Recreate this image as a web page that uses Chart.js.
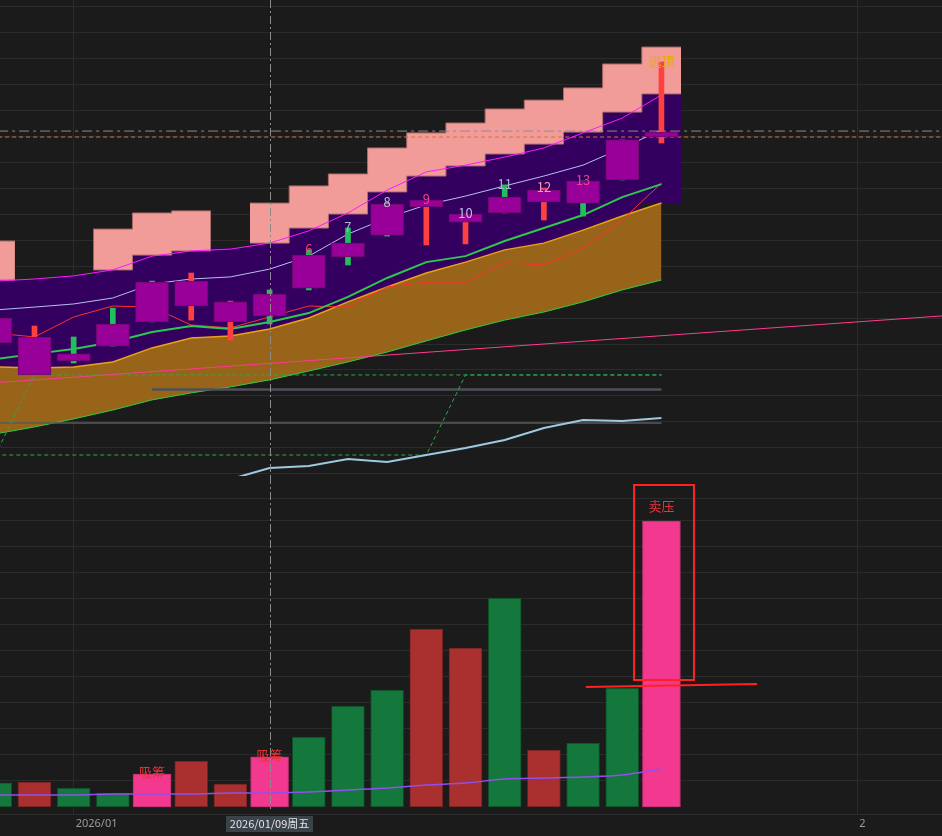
<!DOCTYPE html>
<html>
<head>
<meta charset="utf-8">
<script src="https://cdn.jsdelivr.net/npm/chart.js@4.4.1/dist/chart.umd.min.js"></script>
<style>
  html, body { margin: 0; padding: 0; background: #1b1b1b; }
  #wrap { position: relative; width: 942px; height: 836px; overflow: hidden; }
  #priceChart { position: absolute; left: 0; top: 0; }
  #volChart { position: absolute; left: 0; top: 476px; }
</style>
</head>
<body>
<div id="wrap">
  <canvas id="priceChart" width="942" height="476"></canvas>
  <canvas id="volChart" width="942" height="360"></canvas>
</div>
<script>
// ---- data, one entry per trading day (index 0 = first visible bar) ----
const crossIdx = 7;
const crossLabel = '2026/01/09周五';
const axisTickIdx = [2, 22];
const axisTickLabels = ['2026/01', '2'];

// candles
const openP  = [16.00, 13.81, 14.62, 15.77, 17.38, 16.46, 15.85, 16.92, 18.42, 18.88, 20.38, 20.27, 19.69, 20.65, 20.46, 21.27, 22.85, 22.96];
const closeP = [15.04, 15.27, 14.35, 14.92, 15.85, 17.42, 16.62, 16.08, 17.15, 18.35, 19.19, 20.54, 20.00, 20.04, 20.92, 20.42, 21.31, 23.15];
const highP  = [16.00, 15.69, 15.27, 16.38, 17.42, 17.73, 16.65, 17.08, 18.62, 19.46, 20.42, 20.54, 20.00, 21.12, 21.00, 21.27, 22.85, 25.85];
const lowP   = [15.04, 13.81, 14.27, 14.92, 15.85, 15.92, 15.15, 15.77, 17.08, 18.04, 19.15, 18.81, 18.85, 20.04, 19.77, 19.92, 21.31, 22.73];

// labels above candles
const candleTags = [null, null, null, null, null, null, null, null, '6', '7', '8', '9', '10', '11', '12', '13', null, '逃顶'];
const tagColors  = [null, null, null, null, null, null, null, null, '#e0407a', '#a9b6d6', '#b9c2c9', '#f0408a', '#c2b8e2', '#a9b6d6', '#f09ac0', '#e8408a', null, '#e6a817'];

// overlay lines
const magentaLine  = [17.42, 17.50, 17.62, 17.85, 18.38, 18.58, 18.65, 18.88, 19.35, 20.04, 20.92, 21.62, 21.88, 22.19, 22.54, 23.12, 23.69, 24.58];
const lavenderLine = [16.31, 16.42, 16.54, 16.77, 17.31, 17.50, 17.58, 17.88, 18.38, 19.23, 19.85, 20.35, 20.69, 21.08, 21.46, 21.88, 22.54, 23.23];
const greenMA      = [14.42, 14.62, 14.81, 15.08, 15.46, 15.69, 15.58, 15.85, 16.19, 16.81, 17.54, 18.15, 18.38, 18.96, 19.46, 19.96, 20.65, 21.15];
const redLine      = [15.42, 15.27, 16.04, 16.46, 16.42, 15.73, 15.62, 16.04, 16.46, 16.42, 17.19, 17.38, 17.38, 18.12, 18.04, 18.69, 19.77, 21.19];
const lightBlue    = [null, null, null, null, null, 9.50, 9.80, 10.23, 10.31, 10.58, 10.46, 10.73, 11.00, 11.31, 11.77, 12.08, 12.04, 12.15];

// orange band
const bandTop    = [14.12, 14.08, 14.12, 14.31, 14.85, 15.23, 15.31, 15.58, 16.00, 16.62, 17.19, 17.73, 18.15, 18.62, 18.88, 19.38, 19.92, 20.42];
const bandBottom = [11.54, 11.81, 12.12, 12.46, 12.85, 13.12, 13.35, 13.62, 13.96, 14.31, 14.69, 15.12, 15.54, 15.92, 16.23, 16.62, 17.08, 17.46];

// stepped purple / salmon zones
const purpleHigh = [17.46, 17.50, 17.62, 17.85, 18.42, 18.58, 18.69, 18.88, 19.46, 20.00, 20.85, 21.46, 21.85, 22.31, 22.69, 23.15, 23.92, 24.62];
const purpleLow  = [13.92, 13.88, 13.92, 14.11, 14.65, 15.03, 15.11, 15.38, 15.80, 16.42, 16.99, 17.53, 17.95, 18.42, 18.68, 19.18, 19.72, 20.42];
const salmonHigh = [18.96, null, null, 19.42, 20.04, 20.12, null, 20.42, 21.08, 21.54, 22.54, 23.12, 23.50, 24.04, 24.38, 24.85, 25.77, 26.42];

// green dashed stop lines
const stopA = [10.73, 13.81, 13.81, 13.81, 13.81, 13.81, 13.81, 13.81, 13.81, 13.81, 13.81, 13.81, 13.81, 13.81, 13.81, 13.81, 13.81, 13.81];
const stopB = [10.73, 10.73, 10.73, 10.73, 10.73, 10.73, 10.73, 10.73, 10.73, 10.73, 10.73, 10.73, 13.81, 13.81, 13.81, 13.81, 13.81, 13.81];

// horizontal levels and the pink trend line
const dashDotLevel = 23.19;
const dashedLevel = 22.96;
const grayLevelA = { from: 4, to: 17, value: 13.25 };
const grayLevelB = { from: 0, to: 17, value: 11.96 };
const trendIdx = [0, 25];
const trendVal = [13.51, 16.17];

// volume
const volume = [1850, 1920, 1460, 1080, 2540, 3540, 1770, 3850, 5380, 7770, 9000, 13690, 12230, 16080, 4380, 4920, 9150, 22000];
const volMA  = [920, 920, 920, 1000, 1000, 1000, 1080, 1080, 1150, 1310, 1460, 1690, 1850, 2150, 2230, 2310, 2460, 2920];
const signalIdx = [4, 7, 17];
const signalNotes = [
    { i: 4, text: '吸筹', v: 2690 },
    { i: 7, text: '吸筹', v: 4000 },
    { i: 17, text: '卖压', v: 23150 }
];
const sellBox = { x: [16.30, 17.83], v: [9770, 24770] };
const sellLine = { x: [15.07, 19.44], v: [9230, 9460] };

// ---- look ----
const GRID = '#2b2b2b';
const X_MIN = 0.12, X_MAX = 24.16;
const RED = '#ff4040', GREEN = '#22c05a';

const isUp = openP.map((o, i) => closeP[i] >= o);
const series = vals => vals.map((v, i) => ({ x: i, y: v }));

// one flat step per day, from half a day before to half a day after
function steps(vals) {
    const pts = [];
    vals.forEach((v, i) => {
        if (v === null) { pts.push({ x: i, y: null }); return; }
        pts.push({ x: i - 0.5, y: v }, { x: i + 0.5, y: v });
    });
    return pts;
}

function lineSet(data, color, width, order, extra) {
    return Object.assign({
        type: 'line', data: data, borderColor: color, borderWidth: width,
        pointRadius: 0, tension: 0, fill: false, order: order
    }, extra || {});
}

function xAxis(showLabels) {
    return {
        type: 'linear', min: X_MIN, max: X_MAX, offset: false,
        afterBuildTicks: a => { a.ticks = axisTickIdx.map(v => ({ value: v })); },
        afterFit: a => { a.height = showLabels ? 22 : 0; },
        grid: { color: GRID, drawTicks: false, offset: false },
        border: { display: showLabels, color: GRID },
        ticks: {
            display: showLabels, align: 'start', labelOffset: 2, padding: 3,
            color: '#9a9a9a', font: { family: 'Noto Sans', size: 11 },
            callback: v => axisTickLabels[axisTickIdx.indexOf(v)]
        }
    };
}

function dashedCross(ctx, x, top, bottom) {
    const cx = Math.round(x) + 0.5;
    ctx.save();
    ctx.strokeStyle = '#8a8a8a';
    ctx.lineWidth = 1;
    ctx.setLineDash([8, 3, 2, 3]);
    ctx.beginPath();
    ctx.moveTo(cx, top);
    ctx.lineTo(cx, bottom);
    ctx.stroke();
    ctx.restore();
}

// ---- price pane ----
const priceMarks = {
    id: 'priceMarks',
    afterDatasetsDraw(chart) {
        const { ctx, scales: { x, y } } = chart;
        ctx.save();
        ctx.font = '13px "Noto Sans CJK SC", "Noto Sans", sans-serif';
        ctx.textAlign = 'center';
        ctx.textBaseline = 'middle';
        candleTags.forEach((t, i) => {
            if (!t) return;
            ctx.fillStyle = tagColors[i];
            ctx.fillText(t, x.getPixelForValue(i), y.getPixelForValue(highP[i]) - 1);
        });
        ctx.restore();
        dashedCross(ctx, x.getPixelForValue(crossIdx), 0, chart.height);
    }
};

const salmonLow = salmonHigh.map((v, i) => v === null ? null : purpleHigh[i]);

new Chart(document.getElementById('priceChart'), {
    type: 'line',
    data: {
        datasets: [
            // candles
            { type: 'bar', data: openP.map((o, i) => ({ x: i, y: [o, closeP[i]] })),
              backgroundColor: '#990099', borderColor: '#6c0a6c', borderWidth: 1, borderSkipped: false,
              barThickness: 33, grouped: false, order: 0 },
            { type: 'bar', data: lowP.map((l, i) => ({ x: i, y: [l, highP[i]] })),
              backgroundColor: isUp.map(u => u ? RED : GREEN), borderWidth: 0,
              barThickness: 5, grouped: false, order: 1 },
            // overlay lines
            lineSet(series(magentaLine), '#ff1aff', 1, 2),
            lineSet(series(lavenderLine), '#b4c0ea', 1, 3),
            lineSet(series(greenMA), '#2ec850', 2, 4),
            lineSet(series(redLine), '#ff3030', 1, 5),
            lineSet(series(bandTop), '#e8a317', 1.5, 6),
            lineSet(series(lightBlue), '#9ecae1', 2, 7),
            lineSet(trendIdx.map((t, k) => ({ x: t, y: trendVal[k] })), '#ff3b8e', 1, 8),
            lineSet(series(stopA), '#2ea84a', 1, 9, { borderDash: [4, 3] }),
            lineSet(series(stopB), '#2ea84a', 1, 10, { borderDash: [4, 3] }),
            lineSet([{ x: grayLevelA.from, y: grayLevelA.value }, { x: grayLevelA.to, y: grayLevelA.value }], '#4d525a', 2.5, 11),
            lineSet([{ x: grayLevelB.from, y: grayLevelB.value }, { x: grayLevelB.to, y: grayLevelB.value }], '#5a5a5a', 1.5, 12),
            lineSet([{ x: -1, y: dashDotLevel }, { x: 26, y: dashDotLevel }], '#8c8c8c', 1, 13, { borderDash: [10, 4, 3, 4] }),
            lineSet([{ x: -1, y: dashedLevel }, { x: 26, y: dashedLevel }], '#d9742c', 1, 14, { borderDash: [4, 3] }),
            // orange band (fill on the lower edge, toward the upper edge)
            lineSet(series(bandTop), 'rgba(0,0,0,0)', 1, 16),
            lineSet(series(bandBottom), '#2ecc40', 1, 15, { fill: '-1', backgroundColor: '#98641a' }),
            // salmon zone
            lineSet(steps(salmonHigh), '#a86a68', 1, 17),
            lineSet(steps(salmonLow), '#b07070', 1, 18, { fill: '-1', backgroundColor: '#f19c99' }),
            // purple zone
            lineSet(steps(purpleHigh), 'rgba(0,0,0,0)', 1, 19),
            lineSet(steps(purpleLow), 'rgba(0,0,0,0)', 1, 20, { fill: '-1', backgroundColor: '#330060' })
        ]
    },
    options: {
        responsive: false,
        animation: false,
        layout: { padding: 0 },
        plugins: { legend: { display: false }, tooltip: { enabled: false } },
        scales: {
            x: xAxis(false),
            y: {
                type: 'linear', min: 9.923, max: 28.231, position: 'right',
                afterBuildTicks: a => { a.ticks = []; for (let v = 10; v <= 28; v++) a.ticks.push({ value: v }); },
                afterFit: a => { a.width = 0; },
                grid: { color: GRID, drawTicks: false },
                border: { display: false },
                ticks: { display: false }
            }
        }
    },
    plugins: [priceMarks]
});

// ---- volume pane ----
const volMarks = {
    id: 'volMarks',
    beforeDatasetsDraw(chart) {
        const { ctx } = chart;
        ctx.save();
        ctx.strokeStyle = GRID;
        ctx.lineWidth = 1;
        ctx.beginPath();
        ctx.moveTo(0, 22.5);
        ctx.lineTo(chart.width, 22.5);
        ctx.stroke();
        ctx.restore();
    },
    afterDatasetsDraw(chart) {
        const { ctx, chartArea, scales: { x, y } } = chart;
        ctx.save();
        ctx.font = '13px "Noto Sans CJK SC", sans-serif';
        ctx.textAlign = 'center';
        ctx.textBaseline = 'middle';
        ctx.fillStyle = '#e8333a';
        signalNotes.forEach(n => ctx.fillText(n.text, x.getPixelForValue(n.i), y.getPixelForValue(n.v)));

        // red box around the selling-pressure bar
        ctx.strokeStyle = '#ff2222';
        ctx.lineWidth = 2;
        const bx0 = x.getPixelForValue(sellBox.x[0]), bx1 = x.getPixelForValue(sellBox.x[1]);
        const by0 = y.getPixelForValue(sellBox.v[1]), by1 = y.getPixelForValue(sellBox.v[0]);
        ctx.strokeRect(bx0, by0, bx1 - bx0, by1 - by0);

        ctx.beginPath();
        ctx.moveTo(x.getPixelForValue(sellLine.x[0]), y.getPixelForValue(sellLine.v[0]));
        ctx.lineTo(x.getPixelForValue(sellLine.x[1]), y.getPixelForValue(sellLine.v[1]));
        ctx.stroke();
        ctx.restore();

        const cx = x.getPixelForValue(crossIdx);
        dashedCross(ctx, cx, 0, chartArea.bottom - 2);

        // date tag under the crosshair
        ctx.save();
        ctx.font = '11px "Noto Sans CJK SC", sans-serif';
        const w = ctx.measureText(crossLabel).width + 8;
        ctx.fillStyle = '#3a424a';
        ctx.fillRect(Math.round(cx - w / 2), chartArea.bottom + 2, Math.round(w), 16);
        ctx.fillStyle = '#e6e6e6';
        ctx.textAlign = 'center';
        ctx.textBaseline = 'middle';
        ctx.fillText(crossLabel, cx, chartArea.bottom + 10);
        ctx.restore();
    }
};

const normalVol = [];
const signalVol = [];
volume.forEach((v, i) => {
    if (signalIdx.includes(i)) signalVol.push({ x: i, y: v });
    else normalVol.push({ x: i, y: v });
});

new Chart(document.getElementById('volChart'), {
    type: 'bar',
    data: {
        datasets: [
            { type: 'line', data: series(volMA), borderColor: '#9050f0', borderWidth: 1.5,
              pointRadius: 0, tension: 0.3, order: 0 },
            { data: signalVol, backgroundColor: '#f2388f', borderColor: '#b8306e', borderWidth: 1,
              borderSkipped: false, barThickness: 38, grouped: false, order: 1 },
            { data: normalVol,
              backgroundColor: normalVol.map(p => isUp[p.x] ? '#aa3030' : '#14783c'),
              borderColor: normalVol.map(p => isUp[p.x] ? '#6e2020' : '#0e4a26'),
              borderWidth: 1, borderSkipped: false, barThickness: 33, grouped: false, order: 2 }
        ]
    },
    options: {
        responsive: false,
        animation: false,
        layout: { padding: 0 },
        plugins: { legend: { display: false }, tooltip: { enabled: false } },
        scales: {
            x: xAxis(true),
            y: {
                type: 'linear', min: -538.5, max: 25461.5, position: 'right',
                afterBuildTicks: a => { a.ticks = []; for (let v = 2000; v <= 22000; v += 2000) a.ticks.push({ value: v }); },
                afterFit: a => { a.width = 0; },
                grid: { color: GRID, drawTicks: false },
                border: { display: false },
                ticks: { display: false }
            }
        }
    },
    plugins: [volMarks]
});
</script>
</body>
</html>
